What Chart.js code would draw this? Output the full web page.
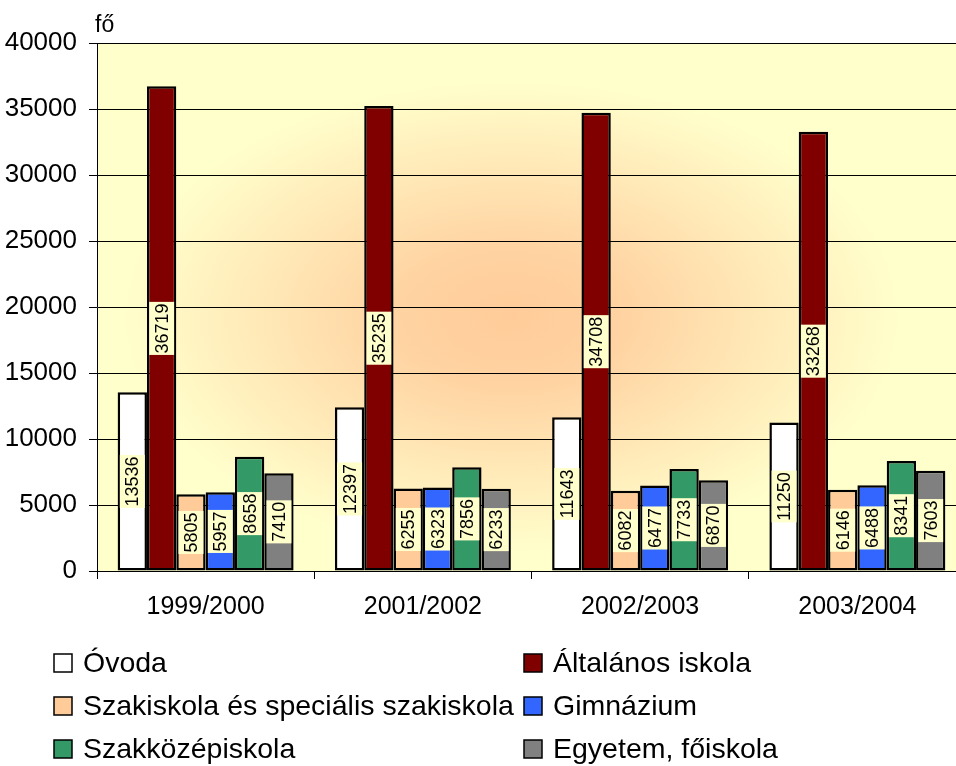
<!DOCTYPE html>
<html>
<head>
<meta charset="utf-8">
<script src="https://cdn.jsdelivr.net/npm/chart.js@4.4.1/dist/chart.umd.min.js"></script>
<style>
    html, body { margin: 0; padding: 0; background: #fff; overflow: hidden; }
</style>
</head>
<body>
<canvas id="chart" width="968" height="766"></canvas>
<script>
// school years on the x axis
var years = ['1999/2000', '2001/2002', '2002/2003', '2003/2004'];

var seriesNames = ['Óvoda', 'Általános iskola', 'Szakiskola és speciális szakiskola',
    'Gimnázium', 'Szakközépiskola', 'Egyetem, főiskola'];

// values per series (fő)
var ovoda = [13536, 12397, 11643, 11250];
var altalanos = [36719, 35235, 34708, 33268];
var szakiskola = [5805, 6255, 6082, 6146];
var gimnazium = [5957, 6323, 6477, 6488];
var szakkozep = [8658, 7856, 7733, 8341];
var egyetem = [7410, 6233, 6870, 7603];

var yMax = 40000;
var yStep = 5000;

var colors = ['#FFFFFF', '#800000', '#FFCC99', '#3366FF', '#339966', '#808080'];
var values = [ovoda, altalanos, szakiskola, gimnazium, szakkozep, egyetem];

var FONT = 'Arial, "Liberation Sans", sans-serif';

var datasets = seriesNames.map(function (name, i) {
    return {
        label: name,
        data: values[i],
        backgroundColor: colors[i],
        borderColor: '#000',
        borderWidth: 2.5,
        borderSkipped: false
    };
});

// peach-to-yellow gradient behind the plot area
var plotBackground = {
    id: 'plotBackground',
    beforeDraw: function (chart) {
        var ctx = chart.ctx, a = chart.chartArea;
        var cx = (a.left + a.right) / 2 - 20, cy = (a.top + a.bottom) / 2 + 10;
        var rx = (a.right - a.left) / 2, ry = (a.bottom - a.top) / 2;
        ctx.save();
        ctx.beginPath();
        ctx.rect(a.left, a.top, a.right - a.left, a.bottom - a.top);
        ctx.clip();
        ctx.translate(cx, cy);
        ctx.scale(1, ry / rx);
        var g = ctx.createRadialGradient(0, 0, 0, 0, 0, rx * 1.05);
        g.addColorStop(0, '#FFCC99');
        g.addColorStop(0.25, '#FFD3A2');
        g.addColorStop(0.85, '#FFFFCC');
        g.addColorStop(1, '#FFFFCC');
        ctx.fillStyle = g;
        ctx.fillRect(-rx * 1.3, -rx * 1.3, rx * 2.6, rx * 2.6);
        ctx.restore();

        // unit label above the y axis
        ctx.save();
        ctx.fillStyle = '#000';
        ctx.font = '23px ' + FONT;
        ctx.textAlign = 'left';
        ctx.textBaseline = 'alphabetic';
        ctx.fillText('fő', a.left - 2, 32);
        ctx.restore();
    }
};

// rotated value labels in the middle of each bar
var barLabels = {
    id: 'barLabels',
    afterDatasetsDraw: function (chart) {
        var ctx = chart.ctx;
        ctx.save();
        ctx.font = '18px ' + FONT;
        ctx.textAlign = 'center';
        ctx.textBaseline = 'middle';
        chart.data.datasets.forEach(function (ds, i) {
            chart.getDatasetMeta(i).data.forEach(function (bar, j) {
                var text = String(ds.data[j]);
                var w = ctx.measureText(text).width + 3;
                var h = 25;
                var y = (bar.y + bar.base) / 2;
                ctx.save();
                ctx.translate(bar.x, y);
                ctx.rotate(-Math.PI / 2);
                ctx.fillStyle = '#FFFFCC';
                ctx.fillRect(-w / 2, -h / 2, w, h);
                ctx.fillStyle = '#000';
                ctx.fillText(text, 0, 1);
                ctx.restore();
            });
        });
        ctx.restore();
    }
};

// two-column legend under the chart
var twoColumnLegend = {
    id: 'twoColumnLegend',
    afterDraw: function (chart) {
        var ctx = chart.ctx;
        var colX = [54, 524];
        var rowY = [663, 706, 749];
        ctx.save();
        ctx.font = '28.5px ' + FONT;
        ctx.textAlign = 'left';
        ctx.textBaseline = 'middle';
        chart.data.datasets.forEach(function (ds, i) {
            var x = colX[i % 2], y = rowY[Math.floor(i / 2)];
            ctx.fillStyle = ds.backgroundColor;
            ctx.fillRect(x, y - 9, 18, 18);
            ctx.strokeStyle = '#000';
            ctx.lineWidth = 1.5;
            ctx.strokeRect(x, y - 9, 18, 18);
            ctx.fillStyle = '#000';
            ctx.fillText(ds.label, x + 29, y + 1);
        });
        ctx.restore();
    }
};

new Chart(document.getElementById('chart').getContext('2d'), {
    type: 'bar',
    data: { labels: years, datasets: datasets },
    plugins: [plotBackground, barLabels, twoColumnLegend],
    options: {
        responsive: false,
        animation: false,
        layout: { padding: { left: 0, top: 43, right: 2, bottom: 135 } },
        plugins: {
            legend: { display: false },
            tooltip: { enabled: false }
        },
        datasets: {
            bar: { categoryPercentage: 0.81, barPercentage: 1 }
        },
        scales: {
            x: {
                afterFit: function (scale) { scale.height = 60; },
                grid: {
                    offset: true,
                    drawOnChartArea: false,
                    drawTicks: true,
                    tickLength: 8,
                    color: '#000'
                },
                border: { display: true, color: '#000', width: 1 },
                ticks: { font: { size: 25, family: FONT }, color: '#000', padding: 13 }
            },
            y: {
                min: 0,
                max: yMax,
                afterFit: function (scale) { scale.width = 97; },
                grid: { color: '#000', lineWidth: 1, tickLength: 8 },
                border: { display: true, color: '#000', width: 1 },
                ticks: {
                    stepSize: yStep,
                    font: { size: 26, family: FONT },
                    color: '#000',
                    padding: 12,
                    callback: function (value) { return String(value); }
                }
            }
        }
    }
});
</script>
</body>
</html>
